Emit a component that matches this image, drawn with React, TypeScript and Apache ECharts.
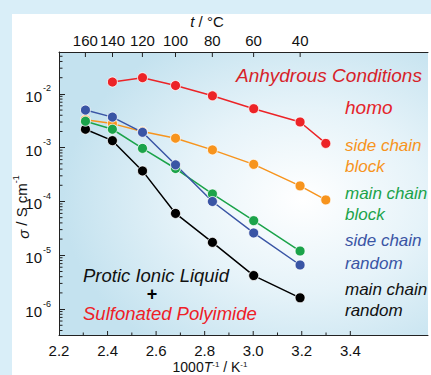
import React, { useEffect, useRef } from "react";
import * as echarts from "echarts";

// 1000/T (K^-1) for 160,140,120,100,80,60,40,30 °C
const invT = [2.309, 2.42, 2.544, 2.68, 2.832, 3.002, 3.193, 3.299];

const homo = [null, 1.66e-2, 2.0e-2, 1.43e-2, 9.2e-3, 5.3e-3, 3.0e-3, 1.2e-3];
const sideBlock = [3.3e-3, 2.8e-3, 2.0e-3, 1.5e-3, 9.1e-4, 4.9e-4, 1.95e-4, 1.07e-4];
const mainBlock = [3.1e-3, 2.2e-3, 9.7e-4, 4.1e-4, 1.38e-4, 4.4e-5, 1.2e-5];
const sideRandom = [5.0e-3, 3.7e-3, 1.93e-3, 4.8e-4, 1.0e-4, 2.6e-5, 6.6e-6];
const mainRandom = [2.2e-3, 1.35e-3, 3.7e-4, 6.0e-5, 1.74e-5, 4.2e-6, 1.62e-6];

const topTempTicks = [160, 140, 120, 100, 80, 60, 40];
const bottomTicks = [2.3, 2.4, 2.5, 2.6, 2.7, 2.8, 2.9, 3.0, 3.1, 3.2, 3.3, 3.4];
const bottomLabels = [2.2, 2.4, 2.6, 2.8, 3.0, 3.2, 3.4];
const yMinorMantissa = [2, 3, 4, 5, 6, 7, 8, 9];
const yDecades = [-7, -6, -5, -4, -3, -2];

const X_MIN = 2.2;
const X_MAX = 3.72;
const Y_MIN = 3.3e-7;
const Y_MAX = 0.06;

const FONT = "'Liberation Sans', Arial, sans-serif";

const RED = "#ec2327";
const ORANGE = "#f7941d";
const GREEN = "#1ba34a";
const BLUE = "#3a55a5";
const BLACK = "#000000";

function pairs(vals: (number | null)[]) {
  const out: any[] = [];
  vals.forEach((v, i) => {
    if (v != null) out.push([invT[i], v]);
  });
  return out;
}

function lineSeries(name: string, vals: (number | null)[], color: string) {
  return {
    name,
    type: "line",
    data: pairs(vals),
    symbol: "circle",
    symbolSize: 10,
    lineStyle: { color, width: 1.5 },
    itemStyle: { color, borderColor: "#ffffff", borderWidth: 0.8 },
    z: 5,
  };
}

export default function App() {
  const ref = useRef<HTMLDivElement>(null);
  useEffect(() => {
    if (!ref.current) return;
    const chart = echarts.init(ref.current, null, { renderer: "svg" });

    const minorData: any[] = [];
    yDecades.forEach((d) => {
      yMinorMantissa.forEach((m) => {
        const v = m * Math.pow(10, d);
        if (v > Y_MIN && v < Y_MAX) minorData.push([X_MIN, v]);
      });
    });

    const annot = (text: string, x: number, y: number, color: string, size: number) => ({
      type: "text",
      x,
      y,
      style: {
        text,
        fill: color,
        fontFamily: FONT,
        fontSize: size,
        fontStyle: "italic",
        align: "left",
        verticalAlign: "middle",
        lineHeight: size + 1,
      },
      z: 10,
    });

    const option: any = {
      animation: false,
      backgroundColor: "#d9eef8",
      grid: {
        left: 59,
        top: 52,
        right: -10,
        bottom: 40,
        show: true,
        borderWidth: 0,
        backgroundColor: new echarts.graphic.RadialGradient(0.66, 0.52, 0.65, [
          { offset: 0, color: "#ffffff" },
          { offset: 0.5, color: "#e6f3f9" },
          { offset: 1, color: "#c4e2ef" },
        ]),
      },
      xAxis: [
        {
          type: "value",
          min: X_MIN,
          max: X_MAX,
          interval: 0.2,
          axisLine: { show: true, lineStyle: { color: "#222", width: 1 } },
          axisTick: { show: false },
          splitLine: { show: false },
          axisLabel: {
            fontFamily: FONT,
            fontSize: 15,
            color: "#111",
            margin: 8,
            formatter: (v: number) =>
              bottomLabels.some((b) => Math.abs(b - v) < 1e-6) ? v.toFixed(1) : "",
          },
        },
        {
          type: "value",
          position: "top",
          min: X_MIN,
          max: X_MAX,
          axisLine: { show: true, lineStyle: { color: "#222", width: 1 } },
          axisTick: { show: false },
          axisLabel: { show: false },
          splitLine: { show: false },
        },
      ],
      yAxis: [
        {
          type: "log",
          min: Y_MIN,
          max: Y_MAX,
          axisLine: { show: true, lineStyle: { color: "#222", width: 1 } },
          axisTick: { show: true, inside: true, length: 6, lineStyle: { color: "#222" } },
          splitLine: { show: false },
          axisLabel: {
            margin: 8,
            formatter: (v: number) => {
              const e = Math.log10(v);
              if (Math.abs(e - Math.round(e)) > 1e-6) return "";
              return `{b|10}{s|${Math.round(e)}}`;
            },
            rich: {
              b: { fontFamily: FONT, fontSize: 15, color: "#111", verticalAlign: "bottom", lineHeight: 20 },
              s: { fontFamily: FONT, fontSize: 9, color: "#111", verticalAlign: "top", lineHeight: 20, padding: [0, 0, 0, 1] },
            },
          },
        },
      ],
      graphic: [
        {
          type: "rect",
          shape: { x: 12, y: 14, width: 420, height: 362 },
          style: { fill: "#ffffff" },
          z: -10,
          silent: true,
        },
        {
          type: "text",
          x: 207,
          y: 21,
          style: {
            text: "{i|t} / °C",
            align: "center",
            verticalAlign: "middle",
            fill: "#111",
            fontFamily: FONT,
            fontSize: 15,
            rich: {
              i: { fontStyle: "italic", fontFamily: FONT, fontSize: 15, fill: "#111" },
            },
          },
        },
        {
          type: "text",
          x: 210,
          y: 367,
          style: {
            text: "1000{i|T}{s|-1} / K{s|-1}",
            align: "center",
            verticalAlign: "middle",
            fill: "#111",
            fontFamily: FONT,
            fontSize: 14,
            rich: {
              i: { fontStyle: "italic", fontFamily: FONT, fontSize: 14, fill: "#111", lineHeight: 14, verticalAlign: "bottom" },
              s: { fontFamily: FONT, fontSize: 8, fill: "#111", lineHeight: 14, verticalAlign: "top" },
            },
          },
        },
        {
          type: "text",
          x: 21,
          y: 207,
          rotation: Math.PI / 2,
          style: {
            text: "{i|σ} / S cm{s|-1}",
            align: "center",
            verticalAlign: "middle",
            fill: "#111",
            fontFamily: FONT,
            fontSize: 15,
            rich: {
              i: { fontStyle: "italic", fontFamily: FONT, fontSize: 15, fill: "#111", lineHeight: 20, verticalAlign: "bottom" },
              s: { fontFamily: FONT, fontSize: 9, fill: "#111", lineHeight: 20, verticalAlign: "top" },
            },
          },
        },
        annot("Anhydrous Conditions", 236, 75, "#d72229", 19),
        annot("homo", 345, 107, "#e5242b", 19),
        annot("side chain", 345, 145, ORANGE, 17),
        annot("block", 345, 166, ORANGE, 17),
        annot("main chain", 345, 193, GREEN, 17),
        annot("block", 345, 214, GREEN, 17),
        annot("side chain", 345, 240, BLUE, 17),
        annot("random", 345, 263, BLUE, 17),
        annot("main chain", 345, 289, "#111", 17),
        annot("random", 345, 310, "#111", 17),
        annot("Protic Ionic Liquid", 83, 275, "#111", 18.5),
        {
          type: "text",
          x: 152,
          y: 294,
          style: {
            text: "+",
            align: "center",
            verticalAlign: "middle",
            fill: "#000",
            fontFamily: FONT,
            fontSize: 18,
            fontWeight: "bold",
            lineHeight: 12,
          },
          z: 10,
        },
        annot("Sulfonated Polyimide", 83, 313, "#ee2027", 18.5),
      ],
      series: [
        // bottom axis ticks
        {
          type: "custom",
          coordinateSystem: "cartesian2d",
          clip: false,
          silent: true,
          data: bottomTicks.map((t) => [t, Y_MIN]),
          renderItem: (params: any, api: any) => {
            const v = api.value(0);
            const p = api.coord([v, Y_MIN]);
            const major = Math.round(v * 10) % 2 === 0;
            return {
              type: "line",
              shape: { x1: p[0], y1: p[1], x2: p[0], y2: p[1] - (major ? 4 : 2.5) },
              style: { stroke: "#222", lineWidth: 1 },
            };
          },
          z: 3,
        },
        // y minor ticks
        {
          type: "custom",
          coordinateSystem: "cartesian2d",
          clip: false,
          silent: true,
          data: minorData,
          renderItem: (params: any, api: any) => {
            const p = api.coord([api.value(0), api.value(1)]);
            return {
              type: "line",
              shape: { x1: p[0], y1: p[1], x2: p[0] + 3.5, y2: p[1] },
              style: { stroke: "#222", lineWidth: 1 },
            };
          },
          z: 3,
        },
        // top temperature axis ticks + labels
        {
          type: "custom",
          coordinateSystem: "cartesian2d",
          clip: false,
          silent: true,
          data: topTempTicks.map((t) => [1000 / (t + 273.15), t]),
          renderItem: (params: any, api: any) => {
            const x = api.coord([api.value(0), Y_MAX])[0];
            const top = params.coordSys.y;
            return {
              type: "group",
              children: [
                {
                  type: "line",
                  shape: { x1: x, y1: top, x2: x, y2: top + 5 },
                  style: { stroke: "#222", lineWidth: 1 },
                },
                {
                  type: "text",
                  x,
                  y: top - 12,
                  style: {
                    text: String(api.value(1)),
                    align: "center",
                    verticalAlign: "middle",
                    fill: "#111",
                    fontFamily: FONT,
                    fontSize: 15,
                  },
                },
              ],
            };
          },
          z: 3,
        },
        lineSeries("main chain random", mainRandom, BLACK),
        lineSeries("homo", homo, RED),
        lineSeries("side chain block", sideBlock, ORANGE),
        lineSeries("main chain block", mainBlock, GREEN),
        lineSeries("side chain random", sideRandom, BLUE),
      ],
    };
    chart.setOption(option);
    return () => chart.dispose();
  }, []);
  return <div ref={ref} style={{ width: 431, height: 375, position: "absolute", left: 0, top: 0 }} />;
}
